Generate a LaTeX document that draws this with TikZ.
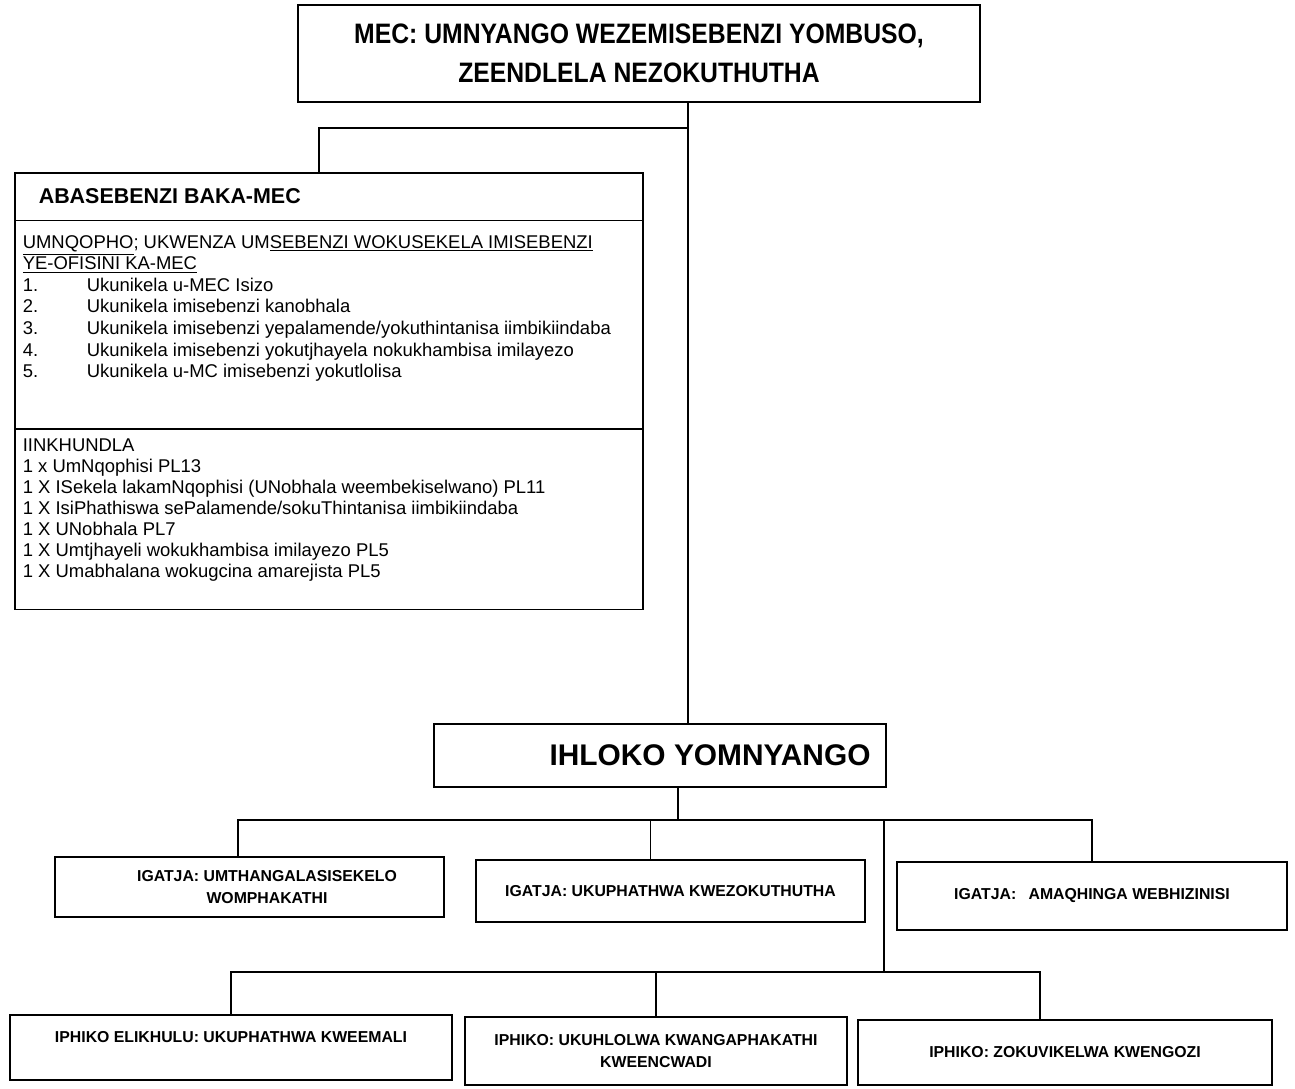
\documentclass[tikz,border=0pt]{standalone}
\usepackage{fontspec}
\setmainfont{Liberation Sans}
\newfontfamily\narrowfont[FakeStretch=0.88]{Liberation Sans}
\usetikzlibrary{shapes.multipart}

\begin{document}
\begin{tikzpicture}[line width=0.9pt,
                    unit/.style={draw, align=center, inner sep=0pt, font=\bfseries\fontsize{9}{12}\selectfont}]
                    \useasboundingbox (0,0) rectangle (25.9,-21.76);

                    \node[draw, align=center, minimum width=13.64cm, minimum height=1.94cm, font=\narrowfont\bfseries\fontsize{16}{22}\selectfont] (mec) at (12.78,-1.07) {MEC: UMNYANGO WEZEMISEBENZI YOMBUSO,\\ZEENDLELA NEZOKUTHUTHA};

                    \node[draw, rectangle split, rectangle split parts=3, inner sep=0pt, anchor=north west] (staff) at (0.28,-3.44) {%
                      \begin{minipage}[c][0.92cm][c]{12.56cm}\bfseries\fontsize{12.2}{14}\selectfont\hspace*{0.48cm}ABASEBENZI BAKA-MEC\end{minipage}
                      \nodepart{two}
                      \begin{minipage}[t][4.14cm][t]{12.56cm}\fontsize{10.5}{12.3}\selectfont\leftskip=0.16cm
                      \vspace*{0.28cm}
                      \underline{UMNQOPHO}; UKWENZA UM\underline{SEBENZI WOKUSEKELA IMISEBENZI}\\
                      \underline{YE-OFISINI KA-MEC}\\
                      \makebox[1.28cm][l]{1.}Ukunikela u-MEC Isizo\\
                      \makebox[1.28cm][l]{2.}Ukunikela imisebenzi kanobhala\\
                      \makebox[1.28cm][l]{3.}Ukunikela imisebenzi yepalamende/yokuthintanisa iimbikiindaba\\
                      \makebox[1.28cm][l]{4.}Ukunikela imisebenzi yokutjhayela nokukhambisa imilayezo\\
                      \makebox[1.28cm][l]{5.}Ukunikela u-MC imisebenzi yokutlolisa
                      \end{minipage}
                      \nodepart{three}
                      \begin{minipage}[t][3.58cm][t]{12.56cm}\fontsize{10.5}{12}\selectfont\leftskip=0.16cm
                      \vspace*{0.18cm}
                      IINKHUNDLA\\
                      1 x UmNqophisi PL13\\
                      1 X ISekela lakamNqophisi (UNobhala weembekiselwano) PL11\\
                      1 X IsiPhathiswa sePalamende/sokuThintanisa iimbikiindaba\\
                      1 X UNobhala PL7\\
                      1 X Umtjhayeli wokukhambisa imilayezo PL5\\
                      1 X Umabhalana wokugcina amarejista PL5
                      \end{minipage}};

                    \node[draw, minimum width=9.04cm, minimum height=1.26cm, font=\bfseries\fontsize{17}{20}\selectfont] (head) at (13.2,-15.11) {\hspace*{2cm}IHLOKO YOMNYANGO};

                    \node[unit, minimum width=7.78cm, minimum height=1.2cm] (uni1) at (4.99,-17.74) {\hspace*{0.7cm}IGATJA: UMTHANGALASISEKELO\\\hspace*{0.7cm}WOMPHAKATHI};
                    \node[unit, minimum width=7.78cm, minimum height=1.24cm] (uni2) at (13.41,-17.82) {IGATJA: UKUPHATHWA KWEZOKUTHUTHA};
                    \node[unit, minimum width=7.8cm, minimum height=1.36cm] (uni3) at (21.84,-17.92) {IGATJA:\hspace{0.5em} AMAQHINGA WEBHIZINISI};

                    \node[unit, minimum width=8.84cm, minimum height=1.3cm] (sub1) at (4.62,-20.95) {IPHIKO ELIKHULU: UKUPHATHWA KWEEMALI\\\mbox{}};
                    \node[unit, minimum width=7.64cm, minimum height=1.36cm] (sub2) at (13.12,-21.02) {IPHIKO: UKUHLOLWA KWANGAPHAKATHI\\KWEENCWADI};
                    \node[unit, minimum width=8.28cm, minimum height=1.3cm] (sub3) at (21.3,-21.05) {IPHIKO: ZOKUVIKELWA KWENGOZI};

                    \coordinate (bar1) at (13.56,-16.4);
                    \coordinate (bar2) at (17.68,-19.44);

                    \draw ([xshift=0.98cm]mec.south) -- ([xshift=0.56cm]head.north);
                    \draw ([xshift=0.98cm,yshift=-0.5cm]mec.south) -| ([xshift=-0.2cm]staff.north);
                    \draw (head.south -| bar1) -- (bar1);
                    \draw ([xshift=-0.23cm]uni1.north) |- (bar1) -| (uni3.north);
                    \draw ([xshift=-0.4cm]uni2.north) -- ([xshift=-0.4cm]uni2.north |- bar1);
                    \draw (bar1 -| bar2) -- (bar2);
                    \draw (sub1.north) |- (bar2) -| ([xshift=-0.5cm]sub3.north);
                    \draw (sub2.north) -- (sub2.north |- bar2);
                \end{tikzpicture}
\end{document}
